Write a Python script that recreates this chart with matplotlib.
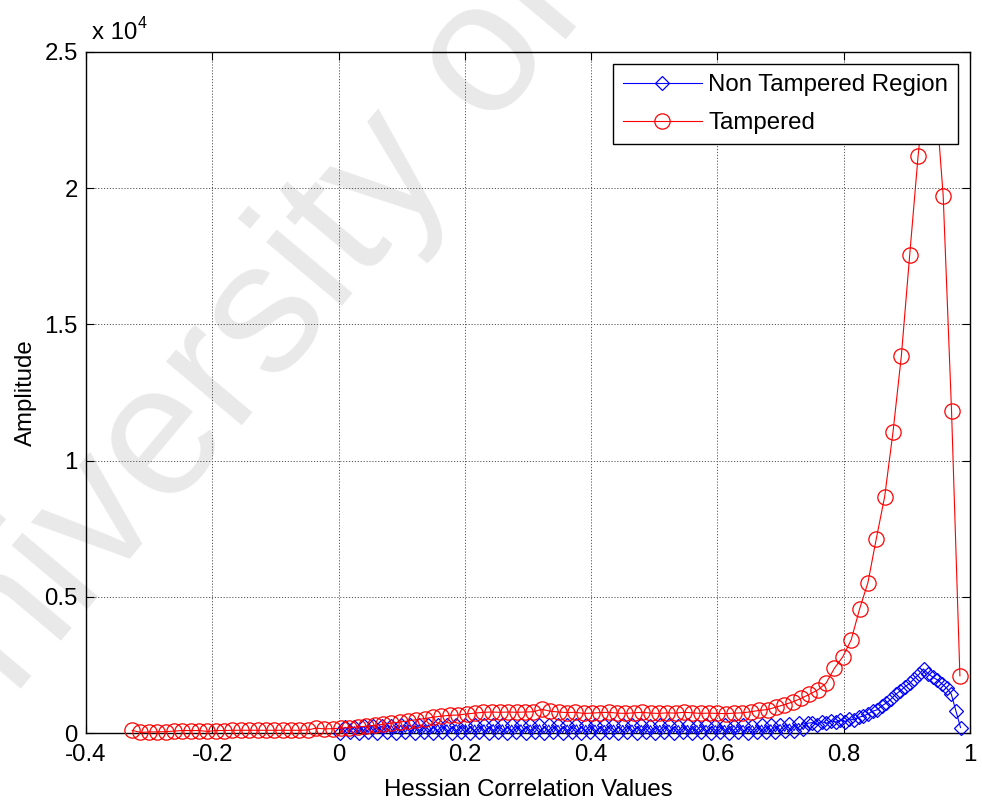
import numpy as np
import matplotlib
matplotlib.use("Agg")
import matplotlib.pyplot as plt
import matplotlib.transforms as mtransforms

plt.rcParams["font.family"] = ["Liberation Sans", "DejaVu Sans"]

# Histogram bin centres (first centre, last centre) for each region
tampered_range = (-0.327, 0.984)
non_tampered_range = (0.003, 0.985)

# Counts per bin
tampered_counts = [
    100, 20, 40, 40, 50, 70, 90, 90, 90, 60,
    90, 90, 100, 100, 100, 100, 100, 100, 100, 100,
    100, 110, 180, 150, 160, 180, 200, 220, 250, 280,
    320, 360, 400, 440, 490, 530, 580, 620, 650, 660,
    700, 730, 760, 770, 760, 770, 760, 770, 780, 870,
    800, 770, 750, 760, 720, 730, 750, 760, 730, 720,
    740, 760, 730, 720, 740, 730, 760, 740, 720, 730,
    720, 710, 730, 740, 780, 830, 860, 950, 1040, 1140,
    1270, 1420, 1580, 1830, 2380, 2800, 3420, 4550, 5520, 7130,
    8670, 11050, 13850, 17560, 21180, 24200, 23800, 19730, 11820, 2100,
]

non_tampered_counts = [
    15, 210, 20, 230, 10, 240, 25, 250, 15, 260, 20, 270, 10, 280, 25, 290, 15, 300, 20, 300,
    10, 310, 20, 300, 15, 310, 25, 300, 10, 290, 20, 300, 15, 310, 20, 300, 10, 290, 25, 300,
    15, 290, 20, 300, 10, 290, 20, 280, 15, 290, 25, 300, 10, 280, 20, 290, 15, 280, 20, 290,
    10, 280, 25, 290, 15, 280, 20, 270, 10, 280, 20, 290, 15, 270, 25, 280, 10, 270, 20, 280,
    15, 270, 20, 280, 10, 270, 25, 280, 15, 270, 20, 290, 30, 300, 40, 310, 60, 330, 90, 350,
    130, 360,
    380, 300, 420, 350, 450, 400, 480, 420, 520, 480, 580, 620, 700, 800, 850, 1000,
    1100, 1250, 1420, 1550, 1700, 1820, 2000, 2150, 2350, 2180, 2050, 1950, 1800, 1650,
    1430, 820, 200,
]

series_labels = ["Non Tampered Region", "Tampered"]

x_ticks = [-0.4, -0.2, 0, 0.2, 0.4, 0.6, 0.8, 1]
x_tick_labels = ["-0.4", "-0.2", "0", "0.2", "0.4", "0.6", "0.8", "1"]
y_ticks = [0, 5000, 10000, 15000, 20000, 25000]
y_tick_labels = ["0", "0.5", "1", "1.5", "2", "2.5"]

x_t = np.linspace(tampered_range[0], tampered_range[1], len(tampered_counts))
x_n = np.linspace(non_tampered_range[0], non_tampered_range[1], len(non_tampered_counts))

W, H = 982, 802
fig = plt.figure(figsize=(W / 100, H / 100), dpi=100)
fig.patch.set_facecolor("white")
ax = fig.add_axes([86 / W, 69 / H, 884 / W, 681 / H])
ax.patch.set_visible(False)

# faint watermark behind the axes
fig.text(-0.075, 0.0, "University of N", rotation=50, rotation_mode="anchor",
         ha="left", va="baseline", fontsize=135, color="#e9e9e9", zorder=-5)

FS = 17.3
ax.plot(x_n, non_tampered_counts, color="#0000ff", lw=0.8, marker="D", ms=7.4,
        mfc="none", mec="#0000ff", mew=0.9, label=series_labels[0], clip_on=False, zorder=3)
ax.plot(x_t, tampered_counts, color="#ff0000", lw=0.8, marker="o", ms=11,
        mfc="none", mec="#ff0000", mew=0.9, label=series_labels[1], clip_on=False, zorder=4)

ax.set_xlim(-0.4, 1)
ax.set_ylim(0, 25000)
ax.set_xticks(x_ticks)
ax.set_xticklabels(x_tick_labels)
ax.set_yticks(y_ticks)
ax.set_yticklabels(y_tick_labels)
ax.tick_params(direction="in", length=5.5, width=0.8, top=True, right=True,
               labelsize=FS, pad=6, colors="black")
ax.tick_params(axis="x", pad=8)
for s in ax.spines.values():
    s.set_linewidth(1.0)
    s.set_color("black")

ax.grid(True, linestyle=(0, (1.2, 1.8)), color="#555555", linewidth=0.7)
ax.set_axisbelow(True)

ax.set_xlabel("Hessian Correlation Values", fontsize=FS, labelpad=9)
ax.set_ylabel("Amplitude", fontsize=FS, labelpad=5)

# exponent annotation above the y axis
off = mtransforms.offset_copy(ax.transAxes, fig=fig, x=6, y=8, units="dots")
ax.text(0, 1, "x 10", transform=off, fontsize=FS, ha="left", va="bottom")
off2 = mtransforms.offset_copy(ax.transAxes, fig=fig, x=52, y=21, units="dots")
ax.text(0, 1, "4", transform=off2, fontsize=11.5, ha="left", va="bottom")

leg = ax.legend(loc="upper right", fontsize=FS, frameon=True, fancybox=False,
                handlelength=3.3, handletextpad=0.25, borderaxespad=0.5,
                labelspacing=0.66, borderpad=0.42)
leg.get_frame().set_edgecolor("black")
leg.get_frame().set_linewidth(1.0)
leg.get_frame().set_alpha(1)

fig.savefig("out.png", dpi=100, facecolor="white")
